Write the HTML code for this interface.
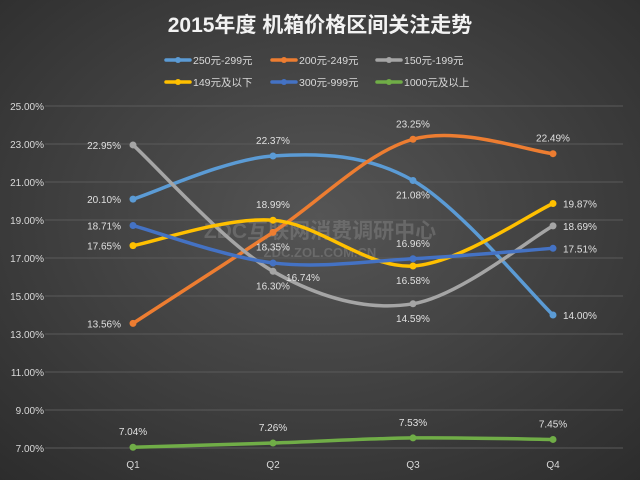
<!DOCTYPE html>
<html><head><meta charset="utf-8"><style>
body{margin:0;width:640px;height:480px;overflow:hidden;background:#3a3a3a;}
svg{display:block;font-family:"Liberation Sans","Noto Sans CJK SC",sans-serif;}
</style></head><body>
<svg id="c" width="640" height="480">
<defs><radialGradient id="bg" cx="50%" cy="45%" r="75%"><stop offset="0" stop-color="#555"/><stop offset="1" stop-color="#2c2c2c"/></radialGradient></defs>
<rect width="640" height="480" fill="url(#bg)"/>
<text x="320" y="32" text-anchor="middle" fill="#f2f2f2" font-size="21" font-weight="bold">2015年度 机箱价格区间关注走势</text>
<g id="legend"></g>
<g id="grid"></g>
<g id="yax"></g>
<g id="xax"></g>
<text x="320" y="238" text-anchor="middle" fill="#9a9a9a" opacity="0.35" font-size="21" font-weight="bold">ZDC互联网消费调研中心</text>
<text x="320" y="257" text-anchor="middle" fill="#9a9a9a" opacity="0.35" font-size="13" font-weight="bold">ZDC.ZOL.COM.CN</text>
<g id="series"></g>
</svg>
<script>
const categories=["Q1","Q2","Q3","Q4"];
const seriesNames=["250元-299元","200元-249元","150元-199元","149元及以下","300元-999元","1000元及以上"];
const s250=[20.10,22.37,21.08,14.00];
const s200=[13.56,18.35,23.25,22.49];
const s150=[22.95,16.30,14.59,18.69];
const s149=[17.65,18.99,16.58,19.87];
const s300=[18.71,16.74,16.96,17.51];
const s1000=[7.04,7.26,7.53,7.45];
const yTicks=[7,9,11,13,15,17,19,21,23,25];
const seriesData=[s250,s200,s150,s149,s300,s1000];
const colors=["#5b9bd5","#ed7d31","#a5a5a5","#ffc000","#4472c4","#70ad47"];
const place=[["l","a","b","r"],["l","b","a","a"],["l","b","b","r"],["l","a","b","r"],["l","rb","a","r"],["a","a","a","a"]];
const NS="http://www.w3.org/2000/svg";
const X0=63,X1=623,Y0=448,Y1=106,YMIN=7,YMAX=25;
const x=i=>X0+(i+0.5)*(X1-X0)/categories.length;
const y=v=>Y0-(v-YMIN)/(YMAX-YMIN)*(Y0-Y1);
function mk(t,a,p){const e=document.createElementNS(NS,t);for(const k in a)e.setAttribute(k,a[k]);(p||document.getElementById('c')).appendChild(e);return e;}
const grid=document.getElementById('grid'),yax=document.getElementById('yax'),xax=document.getElementById('xax');
yTicks.forEach(t=>{
 const l=mk('line',{x1:45,x2:X1,y1:y(t),y2:y(t),stroke:"#5a5a5a","stroke-width":1},grid);
 
 
 const tx=mk('text',{x:44,y:y(t)+4,"text-anchor":"end",fill:"#d9d9d9","font-size":10},yax);
 tx.textContent=t.toFixed(2)+"%";
 
 
});
categories.forEach((c,i)=>{
 const tx=mk('text',{x:x(i),y:468,"text-anchor":"middle",fill:"#d9d9d9","font-size":10},xax);
 tx.textContent=c;
 
 
});
const lg=document.getElementById('legend');
const lpos=[[166,60],[272,60],[377,60],[166,82],[272,82],[377,82]];
seriesNames.forEach((n,i)=>{
 const [lx,ly]=lpos[i];
 const g=mk('g',{},lg);
 
 
 mk('line',{x1:lx,x2:lx+24,y1:ly,y2:ly,stroke:colors[i],"stroke-width":3.5,"stroke-linecap":"round"},g);
 mk('circle',{cx:lx+12,cy:ly,r:3,fill:colors[i]},g);
 const t=mk('text',{x:lx+27,y:ly+4,fill:"#d9d9d9","font-size":10.5},g);t.textContent=n;
});
const sg=document.getElementById('series');
function path(pts){
 let d=`M${pts[0][0]},${pts[0][1]}`;const k=1/6;
 for(let i=0;i<pts.length-1;i++){
  const p0=pts[Math.max(i-1,0)],p1=pts[i],p2=pts[i+1],p3=pts[Math.min(i+2,pts.length-1)];
  d+=` C${p1[0]+(p2[0]-p0[0])*k},${p1[1]+(p2[1]-p0[1])*k} ${p2[0]-(p3[0]-p1[0])*k},${p2[1]-(p3[1]-p1[1])*k} ${p2[0]},${p2[1]}`;
 }
 return d;
}
seriesData.forEach((vals,si)=>{
 const g=mk('g',{},sg);
 
 
 const pts=vals.map((v,i)=>[x(i),y(v)]);
 const p=mk('path',{d:path(pts),fill:"none",stroke:colors[si],"stroke-width":3.5,"stroke-linecap":"round"},g);
 
 
 pts.forEach((pt,i)=>{
  const c=mk('circle',{cx:pt[0],cy:pt[1],r:3.5,fill:colors[si]},g);
  
  
  const pl=place[si][i];let dx=0,dy=0,an="middle";
  if(pl=="a")dy=-12;else if(pl=="b")dy=18;else if(pl=="l"){dx=-12;dy=4;an="end";}else if(pl=="r"){dx=10;dy=4;an="start";}else{dx=30;dy=18;}
  const t=mk('text',{x:pt[0]+dx,y:pt[1]+dy,"text-anchor":an,fill:"#e0e0e0","font-size":10},g);
  t.textContent=vals[i].toFixed(2)+"%";
  
  
 });
});
</script>
</body></html>
